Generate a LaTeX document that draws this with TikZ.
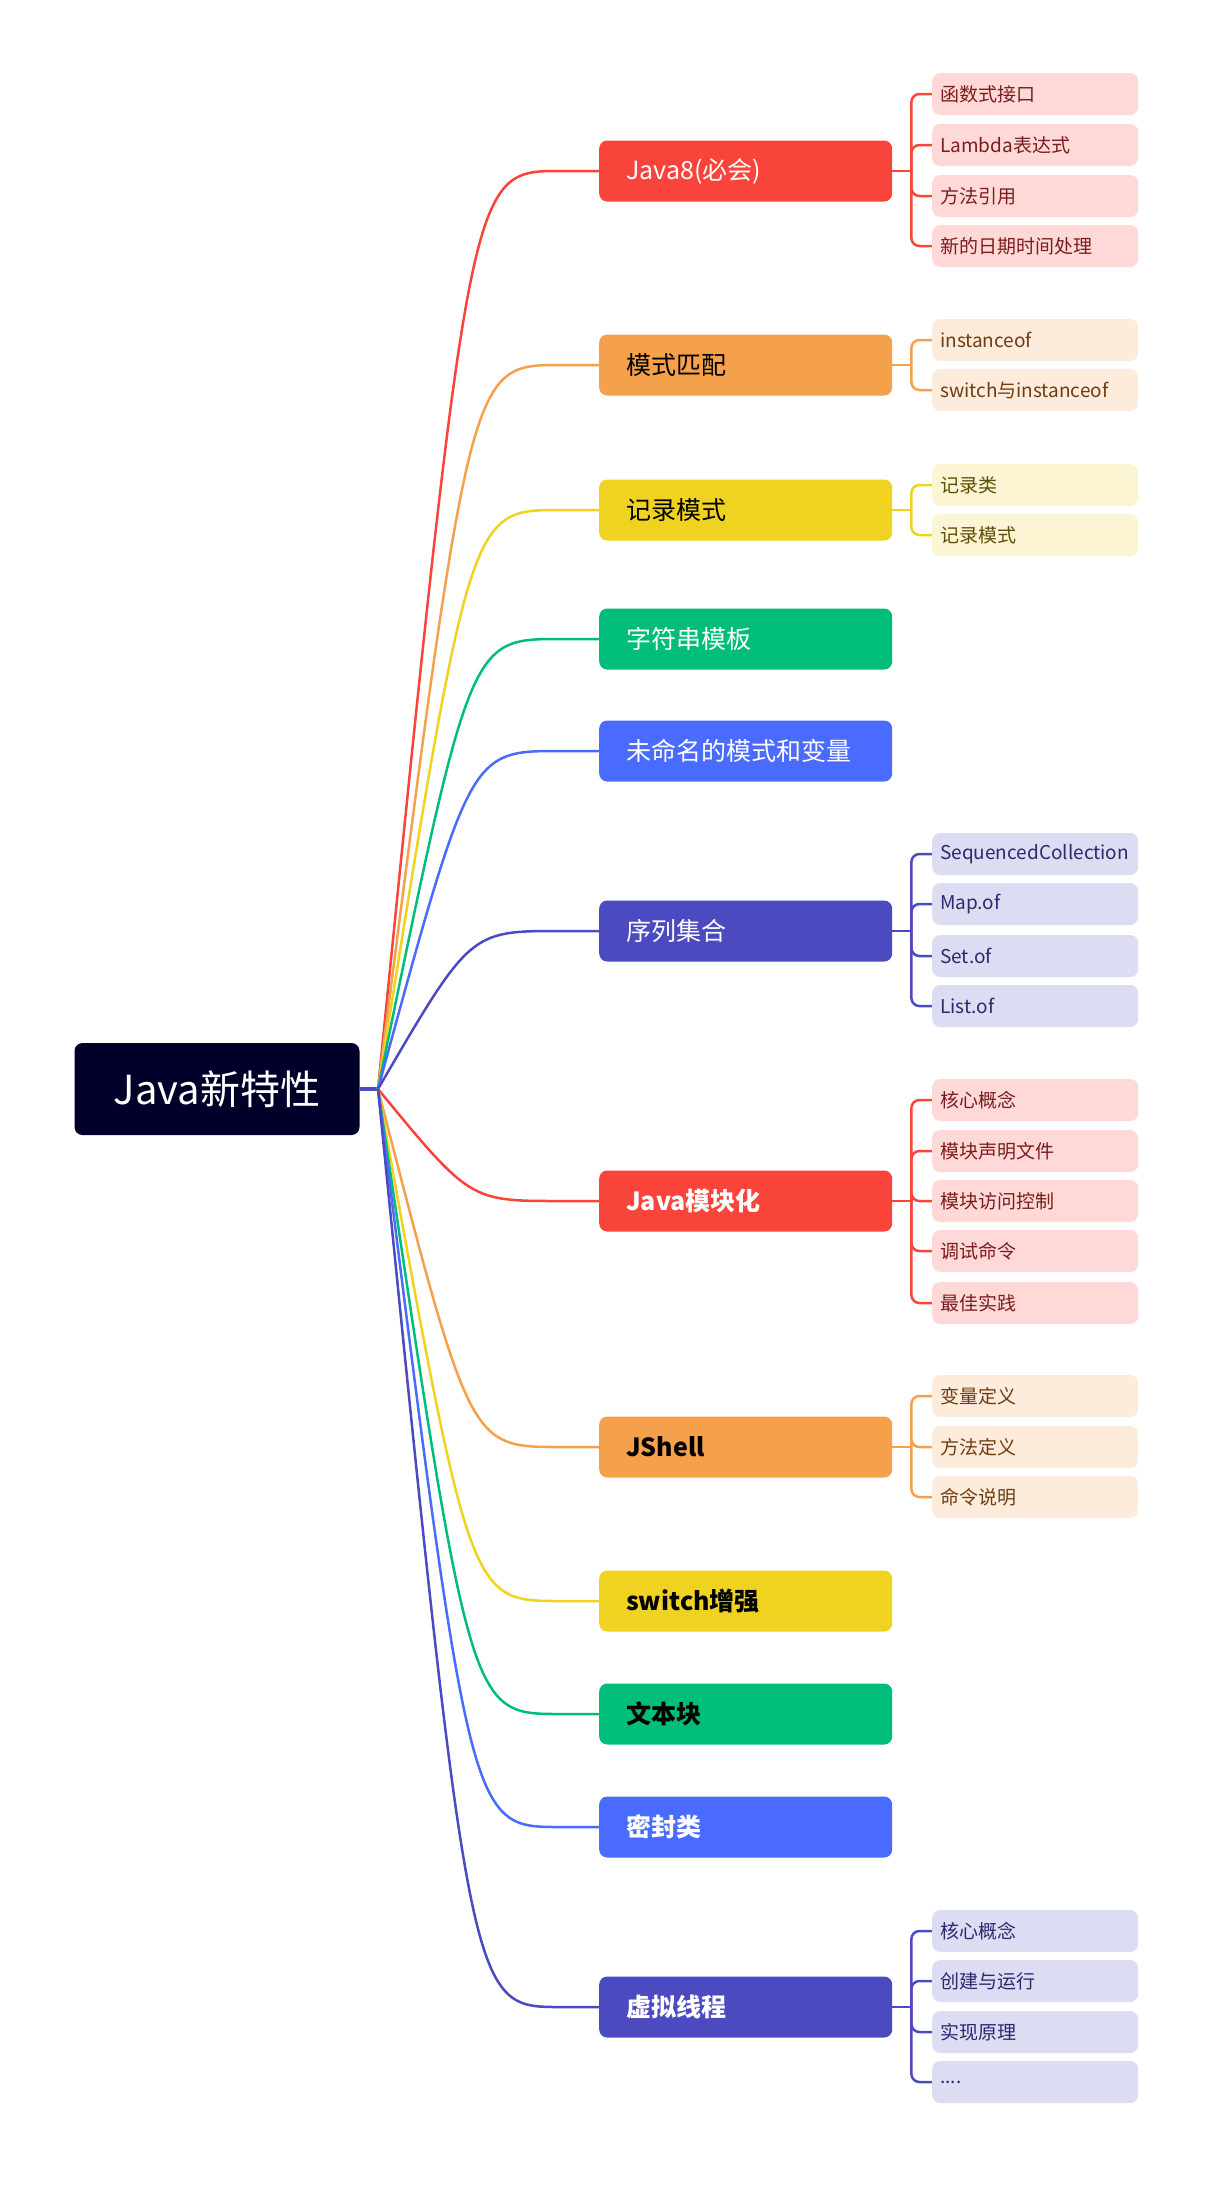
\documentclass[tikz,border=0pt]{standalone}
\usepackage{fontspec}
\setmainfont{Noto Sans CJK SC}
\usetikzlibrary{calc}
\definecolor{cR}{HTML}{F9443C}\definecolor{cRl}{HTML}{FFD8D8}\definecolor{cRt}{HTML}{7A1E1B}
\definecolor{cO}{HTML}{F5A04A}\definecolor{cOl}{HTML}{FDEBDC}\definecolor{cOt}{HTML}{6E3E12}
\definecolor{cY}{HTML}{F0D321}\definecolor{cYl}{HTML}{FBF5D3}\definecolor{cYt}{HTML}{5E4E08}
\definecolor{cG}{HTML}{00BD7A}
\definecolor{cB}{HTML}{4A6BFF}
\definecolor{cI}{HTML}{4B4AC0}\definecolor{cIl}{HTML}{DCDCF2}\definecolor{cIt}{HTML}{2A2A6E}
\definecolor{cRoot}{HTML}{00002A}
\tikzset{
 mainbox/.style={anchor=west,rounded corners=8,minimum width=293,minimum height=61,inner xsep=27,text width=239,align=left,font=\fontsize{25}{28}\selectfont},
 subbox/.style={anchor=west,rounded corners=8,minimum width=206,minimum height=42,inner xsep=8,text width=190,align=left,font=\fontsize{19}{22}\selectfont},
 link/.style={line width=2.5}
}
\newcommand\mkmain[5]{%
 \node[mainbox,fill=#3,text=#5] (#1) at (599,#2) {#4};
 \draw[link,#3] (J) .. controls (470,#2) and (470,#2) .. (560,#2) -- (#1.west);
 \coordinate (#1b) at ($(#1.east)+(19,0)$);}
\newcommand\mksub[6]{%
 \node[subbox,fill=#4,text=#5] (#1) at (932,#2) {#6};
 \draw[link,#3,rounded corners=8] (#1.west) -| (#1b) -- (#1.west-|#1b) (#1b) -- (#1b-|#3main);}
\begin{document}
\begin{tikzpicture}[x=1pt,y=-1pt]
\useasboundingbox (0,0) rectangle (1222,2196);
\node[fill=cRoot,text=white,rounded corners=8,minimum width=285,minimum height=92,font=\fontsize{40}{44}\selectfont] (root) at (217,1089) {Java新特性};
\coordinate (J) at (378,1089);
\draw[line width=4,cI] (root.east) -- (J);
\mkmain{m1}{171}{cR}{Java8(必会)}{white}
\mkmain{m2}{365}{cO}{模式匹配}{black}
\mkmain{m3}{510}{cY}{记录模式}{black}
\mkmain{m4}{639}{cG}{字符串模板}{white}
\mkmain{m5}{751}{cB}{未命名的模式和变量}{white}
\mkmain{m6}{931}{cI}{序列集合}{white}
\mkmain{m7}{1201}{cR}{\bfseries Java模块化}{white}
\mkmain{m8}{1447}{cO}{\bfseries JShell}{black}
\mkmain{m9}{1601}{cY}{\bfseries switch增强}{black}
\mkmain{m10}{1714}{cG}{\bfseries 文本块}{black}
\mkmain{m11}{1827}{cB}{\bfseries 密封类}{white}
\mkmain{m12}{2007}{cI}{\bfseries 虚拟线程}{white}
% brackets
\foreach \m/\c/\ys in {m1/cR/{94,145,196,246},m2/cO/{340,390},m3/cY/{485,535},m6/cI/{854,904,956,1006},m7/cR/{1100,1151,1201,1251,1303},m8/cO/{1396,1447,1497},m12/cI/{1931,1981,2032,2082}}{
 \draw[link,\c] (\m.east) -- (\m b);
 \foreach \y in \ys { \draw[link,\c,rounded corners=8] (\m b) |- (932,\y); }
}
\tikzset{s/.style={subbox}}
\node[subbox,fill=cRl,text=cRt] (a1) at (932,94) {函数式接口};
\node[subbox,fill=cRl,text=cRt] (a2) at (932,145) {Lambda表达式};
\node[subbox,fill=cRl,text=cRt] (a3) at (932,196) {方法引用};
\node[subbox,fill=cRl,text=cRt] (a4) at (932,246) {新的日期时间处理};
\node[subbox,fill=cOl,text=cOt] (b1) at (932,340) {instanceof};
\node[subbox,fill=cOl,text=cOt] (b2) at (932,390) {switch与instanceof};
\node[subbox,fill=cYl,text=cYt] (c1) at (932,485) {记录类};
\node[subbox,fill=cYl,text=cYt] (c2) at (932,535) {记录模式};
\node[subbox,fill=cIl,text=cIt] (d1) at (932,854) {SequencedCollection};
\node[subbox,fill=cIl,text=cIt] (d2) at (932,904) {Map.of};
\node[subbox,fill=cIl,text=cIt] (d3) at (932,956) {Set.of};
\node[subbox,fill=cIl,text=cIt] (d4) at (932,1006) {List.of};
\node[subbox,fill=cRl,text=cRt] (e1) at (932,1100) {核心概念};
\node[subbox,fill=cRl,text=cRt] (e2) at (932,1151) {模块声明文件};
\node[subbox,fill=cRl,text=cRt] (e3) at (932,1201) {模块访问控制};
\node[subbox,fill=cRl,text=cRt] (e4) at (932,1251) {调试命令};
\node[subbox,fill=cRl,text=cRt] (e5) at (932,1303) {最佳实践};
\node[subbox,fill=cOl,text=cOt] (f1) at (932,1396) {变量定义};
\node[subbox,fill=cOl,text=cOt] (f2) at (932,1447) {方法定义};
\node[subbox,fill=cOl,text=cOt] (f3) at (932,1497) {命令说明};
\node[subbox,fill=cIl,text=cIt] (g1) at (932,1931) {核心概念};
\node[subbox,fill=cIl,text=cIt] (g2) at (932,1981) {创建与运行};
\node[subbox,fill=cIl,text=cIt] (g3) at (932,2032) {实现原理};
\node[subbox,fill=cIl,text=cIt] (g4) at (932,2082) {....};
\end{tikzpicture}
\end{document}
